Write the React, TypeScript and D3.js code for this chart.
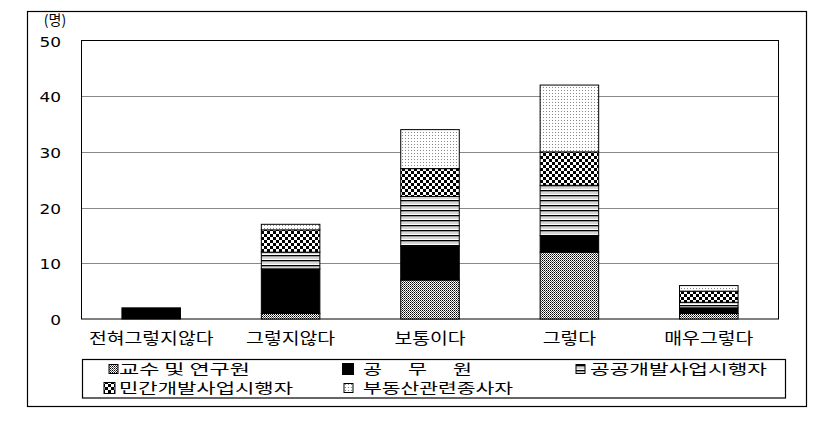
import React from 'react';
import * as d3 from 'd3';

const categories = ['전혀그렇지않다', '그렇지않다', '보통이다', '그렇다', '매우그렇다'];
const seriesNames = ['교수 및 연구원', '공 무 원', '공공개발사업시행자', '민간개발사업시행자', '부동산관련종사자'];
const professors = [0, 1, 7, 12, 1];
const officials = [2, 8, 6, 3, 1];
const publicDev = [0, 3, 9, 9, 1];
const privateDev = [0, 4, 5, 6, 2];
const realEstate = [0, 1, 7, 12, 1];
const yTicks = [0, 10, 20, 30, 40, 50];
const unitLabel = '(명)';

const seriesValues = [professors, officials, publicDev, privateDev, realEstate];
const keys = ['s0', 's1', 's2', 's3', 's4'];
const fills = ['url(#pProf)', '#000', 'url(#pPub)', 'url(#pPriv)', 'url(#pReal)'];

export default function App() {
  const W = 836, H = 424;
  const plotL = 81.5, plotR = 778.5, plotT = 40.5, plotB = 319;
  const y = d3.scaleLinear().domain([0, 50]).range([plotB, plotT]);
  const x = d3.scaleBand<string>().domain(categories).range([plotL, plotR]).paddingInner(0.58).paddingOuter(0.29);

  const rows = categories.map((c, i) => {
    const r: any = { cat: c };
    keys.forEach((k, j) => (r[k] = seriesValues[j][i]));
    return r;
  });
  const stacked = d3.stack<any>().keys(keys)(rows);

  const kr = '"Noto Sans CJK KR", sans-serif';
  const num = '"DejaVu Sans", sans-serif';

  const legendRows = [
    [{ i: 0, sx: 109, tx: 119, w: 131 }, { i: 1, sx: 342, tx: 363, w: 109 }, { i: 2, sx: 576, tx: 590, w: 177 }],
    [{ i: 3, sx: 104, tx: 119, w: 174 }, { i: 4, sx: 344, tx: 363, w: 150 }],
  ];
  const legendY = [369, 388];

  return (
    <svg width={W} height={H} style={{ position: 'absolute', left: 0, top: 0, background: '#fff' }}>
      <defs>
        <pattern id="pProf" width={2} height={2} patternUnits="userSpaceOnUse">
          <rect width={2} height={2} fill="#fff" />
          <rect x={0} y={0} width={1} height={1} fill="#000" />
          <rect x={1} y={1} width={1} height={1} fill="#555" />
        </pattern>
        <pattern id="pPub" width={5} height={5} patternUnits="userSpaceOnUse">
          <rect width={5} height={5} fill="#fff" />
          <rect x={0} y={0} width={5} height={1.4} fill="#000" />
          <rect x={0} y={2.6} width={5} height={0.8} fill="#999" />
        </pattern>
        <pattern id="pPriv" width={6} height={6} patternUnits="userSpaceOnUse">
          <rect width={6} height={6} fill="#fff" />
          <rect x={0} y={0} width={3} height={3} fill="#000" />
          <rect x={3} y={3} width={3} height={3} fill="#000" />
        </pattern>
        <pattern id="pReal" width={3} height={3} patternUnits="userSpaceOnUse">
          <rect width={3} height={3} fill="#fff" />
          <rect x={0} y={0} width={1} height={1} fill="#888" />
        </pattern>
      </defs>

      <rect x={27.5} y={11.5} width={779} height={395} fill="none" stroke="#000" strokeWidth={1.2} />

      {yTicks.filter((t) => t > 0 && t < 50).map((t) => (
        <line key={t} x1={plotL} x2={plotR} y1={Math.round(y(t)) + 0.5} y2={Math.round(y(t)) + 0.5} stroke="#888" strokeWidth={1} />
      ))}
      <rect x={plotL} y={plotT} width={plotR - plotL} height={plotB - plotT} fill="none" stroke="#000" strokeWidth={1} />

      {yTicks.map((t) => {
        const s = String(t);
        return (
          <text key={t} x={61} y={y(t) + 2} textAnchor="end" dominantBaseline="middle" fontFamily={num} fontSize={13.5}
            textLength={s.length * 10.8} lengthAdjust="spacingAndGlyphs" fill="#000">
            {s}
          </text>
        );
      })}
      <text x={55} y={21} textAnchor="middle" dominantBaseline="middle" fontFamily={kr} fontSize={14} fill="#000">{unitLabel}</text>

      {stacked.map((layer, j) => (
        <g key={layer.key}>
          {layer.map((d, i) => {
            const h = y(d[0]) - y(d[1]);
            if (h <= 0) return null;
            return (
              <rect key={i} x={x(categories[i])!} y={y(d[1])} width={x.bandwidth()} height={h} fill={fills[j]} stroke="#000" strokeWidth={1} />
            );
          })}
        </g>
      ))}

      {categories.map((c) => (
        <text key={c} x={x(c)! + x.bandwidth() / 2} y={340} textAnchor="middle" dominantBaseline="middle" fontFamily={kr} fontSize={15.5}
          textLength={c.length * 17.8} lengthAdjust="spacingAndGlyphs" fill="#000">
          {c}
        </text>
      ))}

      <rect x={82.5} y={359.5} width={703} height={38.5} fill="none" stroke="#000" strokeWidth={1.2} />
      {legendRows.map((row, ri) =>
        row.map((it) => {
          const cy = legendY[ri];
          const sz = it.i === 1 ? 12 : it.i === 3 ? 11 : 9;
          const name = seriesNames[it.i];
          const parts = name.split(' ');
          return (
            <g key={it.i}>
              <rect x={it.sx} y={cy - sz / 2} width={sz} height={sz} fill={fills[it.i]} stroke="#000" strokeWidth={it.i === 1 ? 0 : 1} />
              {it.i === 1 ? (
                <text y={cy + 1} dominantBaseline="middle" fontFamily={kr} fontSize={14} fill="#000">
                  {parts.map((p, k) => (
                    <tspan key={k} x={it.tx + k * ((it.w - 19) / (parts.length - 1))} textLength={19} lengthAdjust="spacingAndGlyphs">{p}</tspan>
                  ))}
                </text>
              ) : (
                <text x={it.tx} y={cy + 1} dominantBaseline="middle" fontFamily={kr} fontSize={14} fill="#000"
                  textLength={it.w} lengthAdjust="spacingAndGlyphs">
                  {name}
                </text>
              )}
            </g>
          );
        })
      )}
    </svg>
  );
}
